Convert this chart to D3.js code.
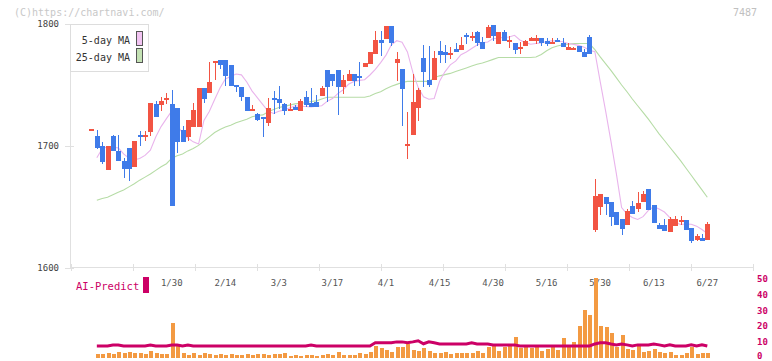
<!DOCTYPE html>
<html><head><meta charset="utf-8">
<script src="https://cdn.jsdelivr.net/npm/d3@7"></script>
<style>body{margin:0;background:#fff;} svg{display:block;}</style>
</head><body><svg id="c" width="772" height="361"></svg>
<script>
const dates = ["1/8","1/9","1/10","1/14","1/15","1/16","1/17","1/20","1/21","1/22","1/23","1/24","1/27","1/28","1/29","1/30","1/31",
"2/3","2/4","2/5","2/6","2/7","2/10","2/12","2/13","2/14","2/17","2/18","2/19","2/20","2/21","2/25","2/26","2/27","2/28",
"3/3","3/4","3/5","3/6","3/7","3/10","3/11","3/12","3/13","3/14","3/17","3/18","3/19","3/21","3/24","3/25","3/26","3/27","3/28","3/31",
"4/1","4/2","4/3","4/4","4/7","4/8","4/9","4/10","4/11","4/14","4/15","4/16","4/17","4/18","4/21","4/22","4/23","4/24","4/25","4/28","4/30",
"5/1","5/2","5/7","5/8","5/9","5/12","5/13","5/14","5/15","5/16","5/19","5/20","5/21","5/22","5/23","5/26","5/27","5/28","5/29","5/30",
"6/2","6/3","6/4","6/5","6/6","6/9","6/10","6/11","6/12","6/13","6/16","6/17","6/18","6/19","6/20","6/23","6/24","6/25","6/26","6/27"];

const open = [1712.5,1708.6,1699.6,1680,1708.6,1696,1687.6,1698,1682.4,1709.4,1708.4,1711.3,1734.7,1734,1738.6,1734.7,1731.4,1713.5,1707.2,1715.3,
1715.3,1747.8,1743.7,1768,1770.6,1770.6,1766.5,1750,1748,1740.4,1729.5,1726.3,1724,1718.6,1739.6,1738.8,1734.7,1729,1732.2,1729,
1740.4,1735.5,1736.3,1741.2,1762.4,1759,1762.4,1748.6,1753.5,1759.2,1757.5,1764.9,1767.3,1775.5,1787,1787.8,1798.4,1768.2,1763.3,1700,
1709.4,1731.4,1772.2,1754.3,1754.3,1778,1777,1775,1779.6,1778.8,1791,1789,1793.5,1785.3,1788.6,1799.2,1783.7,1793.5,1785.8,1784.5,
1780,1782,1786,1786,1788.6,1786,1783.7,1787,1784.5,1778.8,1779.3,1782,1777,1789.4,1631,1650,1658,1653.9,1645.7,1640,
1635.1,1650.6,1648.2,1653.9,1664.5,1651.4,1635.1,1635.1,1629.4,1634.3,1638.2,1639.2,1632.7,1622.9,1624.5,1622.9];
const high = [1713.5,1713.5,1703,1700,1709.4,1709,1690,1698,1704.5,1712.7,1712.7,1735.5,1737,1740.4,1743.7,1746,1731.4,1716,1721.6,1735.5,
1747.8,1747.8,1769,1769.5,1770.6,1770.6,1766.5,1750,1748,1740.4,1734,1726.8,1724,1739.6,1745.3,1749.4,1735,1735.5,1733.3,1738.8,
1745.3,1747.8,1742,1749.4,1762.4,1759,1762.4,1758.4,1762.4,1759.2,1769,1768.2,1777.1,1794.3,1794.3,1798.4,1798.4,1777.1,1763.3,1728,
1759,1747.8,1782.9,1782,1778,1786,1782.9,1781,1784.5,1789.4,1792.7,1793.5,1794.3,1789.4,1799.2,1799.2,1793.5,1795,1790.2,1784.5,
1785.3,1787,1789.4,1791,1788.6,1788.6,1788.6,1788.6,1788.6,1784.5,1781,1782,1779.6,1791,1672.7,1660.4,1658,1653.9,1645.7,1640,
1648,1654.7,1662,1662.9,1664.5,1651.4,1636.7,1640,1641.6,1642.4,1642.4,1639.2,1632.7,1627.8,1627.8,1637.6];
const low = [1712,1697.7,1685.5,1680,1695.5,1688,1673.7,1671,1682.4,1700.4,1704.5,1708.6,1723.5,1729,1734.7,1650.6,1693.9,1702.9,1704,1715.3,
1715.3,1735.5,1743.7,1754,1763,1749.4,1749.4,1744,1737,1729,1729.5,1720.2,1707.2,1716,1726.3,1730.4,1725.7,1729,1729.8,1729,
1731.7,1732.2,1732.2,1741.2,1736.3,1749.4,1725.7,1742.9,1753.5,1749.4,1749.4,1764.9,1767.3,1775.5,1773.9,1787.8,1782,1753.5,1716,1689,
1709.4,1720.8,1748.6,1748.6,1754.3,1768,1768,1771.4,1777,1778.8,1783.7,1786,1782,1779.6,1788.6,1786,1783.7,1786,1780.4,1775.5,
1775.5,1782,1786,1783.7,1782,1782,1783.7,1785.3,1781.2,1778.8,1778.8,1777,1773,1775.8,1629.4,1643.3,1643.3,1634.3,1635.1,1627,
1635.1,1644.1,1645.7,1653.9,1647.3,1636.7,1631.8,1630.2,1629.4,1634.3,1635.1,1631,1620.7,1622,1622,1622.9];
const close = [1713,1698.5,1686.8,1700,1695.5,1688,1681,1681,1704.5,1707,1708.8,1735.5,1723.5,1737,1739,1650.6,1702.9,1702.9,1721.6,1729.8,
1747.8,1738.8,1752.6,1769,1766.5,1757.6,1749.4,1749,1740,1729,1730,1721.4,1721.9,1731.4,1738,1735.5,1729,1730.6,1729.8,1737.1,
1733.9,1732.2,1732.2,1747.8,1748.6,1753.5,1748.6,1754.3,1759.2,1753.5,1756,1768.2,1777.1,1786.9,1784.5,1798.4,1784.5,1771.4,1746.9,1701.5,
1736.3,1746.1,1760.8,1750.2,1772.2,1774.7,1774.7,1775.5,1777,1782.9,1789.4,1789.4,1784.5,1779.6,1797.6,1790.2,1793.5,1786,1786,1778.8,
1780.4,1786,1788.6,1788.6,1784.5,1783.7,1785.3,1785.3,1781.2,1781.2,1779.6,1777,1773,1775.8,1658.8,1660.4,1652.2,1641.6,1635.1,1631.8,
1646.5,1644.1,1653.1,1660.4,1647.3,1636.7,1631.8,1630.2,1640,1640,1638.4,1631,1622,1626.1,1622,1635.9];

const ma5 = [null,1690.4,1697.7,1699.3,1699,1698.5,1693.5,1690.0,1688.8,1689.7,1692.3,1696.5,1707.4,1715.9,1722.4,1728.8,1717.1,1710.6,1706.5,1703.4,
1701.6,1721.0,1728.2,1738.1,1747.6,1754.9,1756.9,1759.0,1758.3,1752.5,1745.0,1739.5,1733.9,1728.5,1726.7,1728.5,1729.6,1731.2,1732.9,1732.6,
1732.4,1732.1,1732.7,1733.0,1736.6,1738.9,1742.9,1746.1,1750.6,1752.8,1753.8,1754.3,1758.2,1762.8,1768.3,1774.5,1783.0,1786.3,1785.1,1777.1,
1760.5,1748.1,1740.4,1738.3,1739.0,1753.1,1760.8,1766.5,1769.5,1774.8,1777.0,1779.9,1782.8,1784.6,1785.2,1788.1,1788.3,1789.1,1789.4,1790.7,
1786.9,1784.9,1783.4,1784.0,1784.5,1785.6,1786.3,1786.1,1785.5,1784.0,1783.3,1782.5,1780.9,1778.4,1777.3,1752.8,1729.0,1704.0,1677.8,1649.6,
1644.2,1641.4,1639.8,1642.1,1647.2,1650.3,1648.3,1645.9,1641.3,1637.2,1635.7,1636.1,1635.9,1634.3,1631.5,1628.3];
const ma25 = [null,1655.5,1657,1658,1660,1662,1664,1666.5,1669,1672,1674.5,1677,1680,1683,1685.5,1690,1692,1693.5,1696,1698,
1700.5,1704,1707.5,1711,1713.5,1715.5,1717,1719,1720.5,1722,1724,1725,1725.5,1728,1730,1731.5,1732.5,1733.5,1734.5,1735,
1735.5,1736.5,1737,1738.5,1740,1740,1740,1740,1740,1740,1740,1740,1741,1743,1744.5,1747,1749,1750.5,1752,1753,
1753,1753,1753,1753,1756,1757.5,1758.5,1759.5,1761,1762.5,1764,1765.5,1767,1768,1769.5,1771,1772.5,1772.5,1772.5,1772.5,
1772.5,1772.5,1772.5,1773,1775,1778,1780.5,1782,1783,1783.5,1784,1784,1784,1784,1779,1773,1767.5,1762,1756,1750,
1744.5,1738.5,1733,1727.5,1722,1716,1710,1704.5,1699,1693.5,1688,1682,1676,1670,1664,1658];

const volume = [0,2.5,2.5,3.2,2.5,3.8,3.2,3.8,3.2,3.2,2.5,4.4,3.2,2.5,2.5,22.2,7.6,3.2,1.9,3.2,
1.9,3.2,2.5,1.9,2.5,1.9,2.5,1.9,1.9,2.5,2.2,2.5,2.5,1.9,2.5,2.5,3.2,1.3,1.9,1.3,
1.9,1.9,1.3,1.9,2.5,1.9,3.8,1.9,1.9,1.9,3.2,2.5,3.8,7.6,6.3,5.1,3.8,7.0,7.0,8.9,
5.1,4.4,6.3,4.4,3.2,3.2,3.8,2.5,3.2,3.2,3.2,3.2,4.4,3.2,7.0,7.6,4.4,7.0,7.5,13.3,
6.3,7.0,6.3,7.0,4.4,5.7,7.0,5.1,12.7,7.0,10.2,20.3,30.5,27.3,50.8,20.3,19.7,15.9,7.0,14.6,
5.7,5.1,8.3,3.8,4.4,5.7,3.8,3.2,3.8,1.9,1.9,3.2,7.0,2.5,3.2,3.2];
const aiPredict = [null,7.6,7.6,7.6,8.2,8.2,7.6,7.6,7.6,7.6,7.6,8.2,7.6,7.6,7.6,8.2,8.2,7.6,8.2,7.6,
7.6,7.6,7.6,7.6,7.6,7.6,7.6,7.6,7.6,7.6,7.6,7.6,7.6,7.6,7.6,7.6,7.6,7.6,7.6,7.6,
7.6,8.2,7.6,7.6,7.6,7.6,7.6,7.6,7.6,7.6,7.6,7.6,7.6,9.6,9.6,9.6,9.6,10.2,10.2,9.6,
10.2,10.9,9.0,10.2,9.6,8.9,8.9,8.9,8.9,8.9,8.9,9.6,8.9,8.9,8.9,8.3,8.3,8.3,8.3,8.3,
7.6,7.6,7.6,7.6,7.6,7.6,7.6,7.6,7.6,7.6,7.6,7.6,7.6,7.6,8.9,9.6,9.6,8.9,8.3,8.9,
8.3,7.6,8.3,8.3,8.3,8.9,8.3,7.6,8.3,7.6,7.6,7.6,8.3,7.6,8.3,7.6];

const xLabels = ["1/30","2/14","3/3","3/17","4/1","4/15","4/30","5/16","5/30","6/13","6/27"];
const priceTicks = [1600,1700,1800];
const volTicks = [0,10,20,30,40,50];
const legendItems = ["5-day MA","25-day MA"];

const RED="#f25443", BLUE="#3f7be9", PINK="#e9b4ec", GREEN="#b6dca6", MAG="#cc0066", ORANGE="#f39a42", AX="#e0e0e0";
const FONT="'DejaVu Sans Mono', monospace";

const svg=d3.select("#c");
const step=5.355;
const x=d3.scaleBand().domain(dates).range([88.8, 88.8+step*dates.length]).padding(0);
const cx=d=>x(d)+x.bandwidth()/2;
const y=d3.scaleLinear().domain([1600,1800]).range([268,24]);
const yv=d3.scaleLinear().domain([0,50]).range([358,279]);
const gx=d3.scaleLinear().domain([0,11]).range([70.7,752.5]);

// watermark
svg.append("text").attr("x",14).attr("y",16).attr("font-family",FONT).attr("font-size",10).attr("fill","#c8c8c8").text("(C)https://chartnavi.com/");
svg.append("text").attr("x",757).attr("y",16).attr("text-anchor","end").attr("font-family",FONT).attr("font-size",10).attr("fill","#c0c0c0").text("7487");

// axes
const ax=svg.append("g").attr("shape-rendering","crispEdges");
ax.append("line").attr("x1",70.5).attr("x2",70.5).attr("y1",y(1800)).attr("y2",268).attr("stroke",AX);
ax.append("line").attr("x1",70).attr("x2",752.5).attr("y1",267.5).attr("y2",267.5).attr("stroke",AX);
ax.selectAll(".yt").data(priceTicks).join("line").attr("x1",65).attr("x2",74).attr("y1",d=>Math.round(y(d))+0.5).attr("y2",d=>Math.round(y(d))+0.5).attr("stroke",AX);
ax.selectAll(".xt").data(gx.ticks(11)).join("line").attr("x1",d=>Math.round(gx(d))+0.5).attr("x2",d=>Math.round(gx(d))+0.5).attr("y1",264).attr("y2",271).attr("stroke",AX);
svg.selectAll(".yl").data(priceTicks).join("text").attr("x",59).attr("y",d=>y(d)+3).attr("text-anchor","end")
  .attr("font-family",FONT).attr("font-size",9).attr("fill","#444").text(d=>d);
svg.selectAll(".xl").data(xLabels).join("text").attr("x",d=>cx(d)).attr("y",286).attr("text-anchor","middle")
  .attr("font-family",FONT).attr("font-size",9).attr("fill","#555").text(d=>d);
svg.selectAll(".vl").data(volTicks).join("text").attr("x",757).attr("y",d=>Math.min(yv(d)+3,359)).attr("font-family",FONT)
  .attr("font-size",9).attr("font-weight","bold").attr("fill",MAG).text(d=>d);

// MA lines
const idx=d3.range(dates.length);
const lineOf=arr=>d3.line().defined(i=>arr[i]!=null).x(i=>cx(dates[i])).y(i=>y(arr[i]));
svg.append("path").attr("d",lineOf(ma25)(idx)).attr("fill","none").attr("stroke",GREEN).attr("stroke-width",1.1);
svg.append("path").attr("d",lineOf(ma5)(idx)).attr("fill","none").attr("stroke",PINK).attr("stroke-width",1.1);

// candles
const cg=svg.append("g").attr("shape-rendering","crispEdges");
const col=i=>close[i]>=open[i]?RED:BLUE;
cg.selectAll(".w").data(idx).join("line")
  .attr("x1",i=>Math.round(cx(dates[i]))+0.5).attr("x2",i=>Math.round(cx(dates[i]))+0.5)
  .attr("y1",i=>y(high[i])).attr("y2",i=>y(low[i])).attr("stroke",col);
cg.selectAll(".b").data(idx).join("rect")
  .attr("x",i=>Math.round(cx(dates[i]))-2).attr("width",5)
  .attr("y",i=>{const t=y(Math.max(open[i],close[i])),b=y(Math.min(open[i],close[i]));return b-t<2?(t+b)/2-1:t;})
  .attr("height",i=>Math.max(2,Math.abs(y(open[i])-y(close[i]))))
  .attr("fill",col);

// volume
svg.append("g").attr("shape-rendering","crispEdges").selectAll("rect").data(idx.filter(i=>volume[i]>0)).join("rect")
  .attr("x",i=>Math.round(cx(dates[i]))-1.5).attr("width",4)
  .attr("y",i=>yv(volume[i])).attr("height",i=>yv(0)-yv(volume[i])).attr("fill",ORANGE);

// AI predict
svg.append("path").attr("d",d3.line().defined(i=>aiPredict[i]!=null).x(i=>cx(dates[i])).y(i=>yv(aiPredict[i]))(idx))
  .attr("fill","none").attr("stroke",MAG).attr("stroke-width",3);
svg.append("text").attr("x",76).attr("y",290).attr("font-family",FONT).attr("font-size",10.5).attr("fill",MAG).text("AI-Predict");
svg.append("rect").attr("x",143).attr("y",277).attr("width",6).attr("height",16).attr("fill",MAG);

// legend
const lg=svg.append("g");
lg.append("rect").attr("x",70.5).attr("y",24.5).attr("width",78).attr("height",47).attr("fill","#fff").attr("stroke","#ddd");
lg.selectAll(".lt").data(legendItems).join("text").attr("x",130).attr("y",(d,i)=>43.5+i*17).attr("text-anchor","end")
  .attr("font-family",FONT).attr("font-size",10).attr("fill","#333").text(d=>d);
lg.selectAll(".ls").data(legendItems).join("rect").attr("x",136.5).attr("y",(d,i)=>31.5+i*17).attr("width",6).attr("height",14)
  .attr("fill",(d,i)=>i?"#c4e2b4":"#f2c4f2").attr("stroke","#555");
</script></body></html>
